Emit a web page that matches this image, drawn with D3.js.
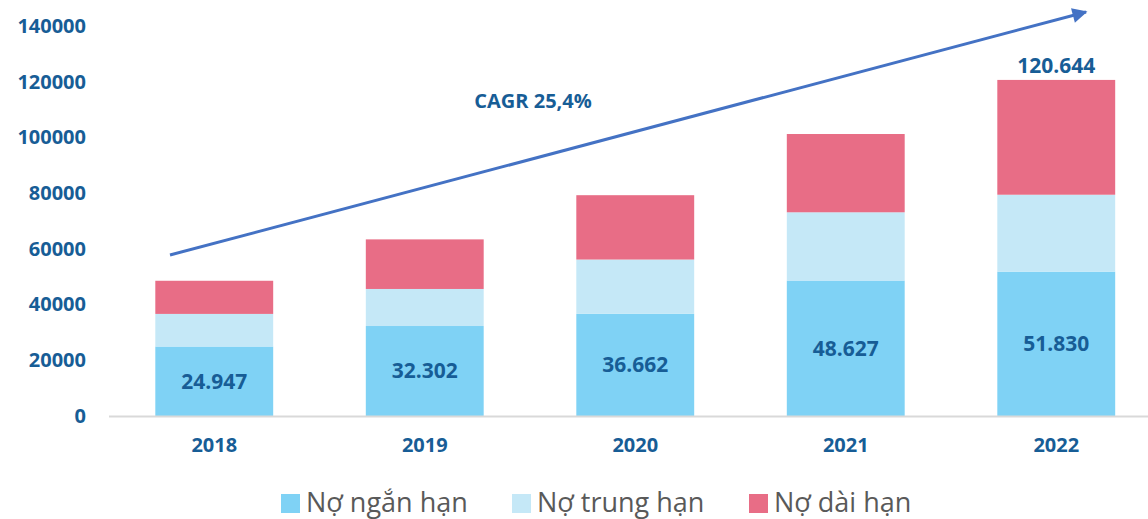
<!DOCTYPE html>
<html>
<head>
<meta charset="utf-8">
<script src="https://cdn.jsdelivr.net/npm/d3@7"></script>
<style>
  body { margin: 0; background: #fff; }
  text { font-family: "Open Sans", "Noto Sans", sans-serif; }
</style>
</head>
<body>
<div id="chart"></div>
<script>
// Datos del gráfico
const years = ["2018", "2019", "2020", "2021", "2022"];
const shortTerm = [24947, 32302, 36662, 48627, 51830];
const mediumTerm = [11700, 13300, 19500, 24500, 27600];
const longTerm = [11900, 17800, 23100, 28100, 41214];
const seriesNames = ["Nợ ngắn hạn", "Nợ trung hạn", "Nợ dài hạn"];
const seriesColors = ["#7fd2f5", "#c5e8f7", "#e86d86"];
const yTicks = [0, 20000, 40000, 60000, 80000, 100000, 120000, 140000];
const cagrLabel = "CAGR 25,4%";
const totalLabel = "120.644";

const W = 1148, H = 519;
const textColor = "#175d96";

const svg = d3.select("#chart").append("svg")
    .attr("width", W)
    .attr("height", H);

// Escalas
const x = d3.scaleBand()
    .domain(years)
    .range([109, 1161.5])
    .paddingInner(0.44)
    .paddingOuter(0.22);

const y = d3.scaleLinear()
    .domain([0, 140000])
    .range([416, 26]);

// Apilar las series
const rows = years.map((yr, i) => ({ year: yr, s0: shortTerm[i], s1: mediumTerm[i], s2: longTerm[i] }));
const stack = d3.stack().keys(["s0", "s1", "s2"]);
const layers = stack(rows);

// Eje Y (solo etiquetas)
const yAxis = svg.append("g")
    .attr("transform", "translate(86,0)")
    .call(d3.axisLeft(y).tickValues(yTicks).tickFormat(d3.format("d")).tickSize(0).tickPadding(0));
yAxis.select(".domain").remove();
yAxis.selectAll("text")
    .attr("fill", textColor)
    .style("font-size", "20px")
    .style("font-weight", "bold")
    .style("font-family", "'Open Sans', sans-serif");

// Barras
svg.append("g").selectAll("g")
    .data(layers)
    .enter().append("g")
    .attr("fill", (d, i) => seriesColors[i])
    .selectAll("rect")
    .data(d => d)
    .enter().append("rect")
    .attr("x", d => x(d.data.year))
    .attr("y", d => y(d[1]))
    .attr("width", x.bandwidth())
    .attr("height", d => y(d[0]) - y(d[1]));

// Eje X
const xAxis = svg.append("g")
    .attr("transform", `translate(0,${y(0)})`)
    .call(d3.axisBottom(x).tickSize(0).tickPadding(22));
xAxis.select(".domain")
    .attr("stroke", "#d9d9d9")
    .attr("stroke-width", 2)
    .attr("d", `M109,0.5H${W}`);
xAxis.selectAll("text")
    .attr("fill", textColor)
    .style("font-size", "20px")
    .style("font-weight", "bold")
    .style("font-family", "'Open Sans', sans-serif");

// Etiquetas de nợ ngắn hạn
svg.append("g").selectAll("text")
    .data(layers[0])
    .enter().append("text")
    .attr("x", d => x(d.data.year) + x.bandwidth() / 2)
    .attr("y", d => (y(d[0]) + y(d[1])) / 2)
    .attr("dy", "0.35em")
    .attr("text-anchor", "middle")
    .attr("fill", textColor)
    .style("font-size", "21px")
    .style("font-weight", "bold")
    .text(d => d3.format(",")(d.data.s0).replace(/,/g, "."));

// Total del último año
const last = layers[2][layers[2].length - 1];
svg.append("text")
    .attr("x", x(last.data.year) + x.bandwidth() / 2)
    .attr("y", y(last[1]) - 7)
    .attr("text-anchor", "middle")
    .attr("fill", textColor)
    .style("font-size", "21px")
    .style("font-weight", "bold")
    .text(totalLabel);

// Flecha CAGR
svg.append("defs").append("marker")
    .attr("id", "arrow")
    .attr("viewBox", "0 0 10 10")
    .attr("refX", 9)
    .attr("refY", 5)
    .attr("markerWidth", 6)
    .attr("markerHeight", 5)
    .attr("markerUnits", "strokeWidth")
    .attr("orient", "auto")
    .append("path")
    .attr("d", "M0,0L10,5L0,10Z")
    .attr("fill", "#4472c4");

svg.append("line")
    .attr("x1", 170).attr("y1", 255)
    .attr("x2", 1086).attr("y2", 12)
    .attr("stroke", "#4472c4")
    .attr("stroke-width", 3)
    .attr("marker-end", "url(#arrow)");

svg.append("text")
    .attr("x", 533)
    .attr("y", 108)
    .attr("text-anchor", "middle")
    .attr("fill", textColor)
    .style("font-size", "20px")
    .style("font-weight", "bold")
    .text(cagrLabel);

// Leyenda
const legendX = [281, 512, 749];
const legend = svg.append("g").selectAll("g")
    .data(seriesNames)
    .enter().append("g")
    .attr("transform", (d, i) => `translate(${legendX[i]},494)`);

legend.append("rect")
    .attr("width", 19)
    .attr("height", 19)
    .attr("fill", (d, i) => seriesColors[i]);

legend.append("text")
    .attr("x", 25)
    .attr("y", 18)
    .attr("fill", "#595959")
    .style("font-size", "27px")
    .text(d => d);
</script>
</body>
</html>
